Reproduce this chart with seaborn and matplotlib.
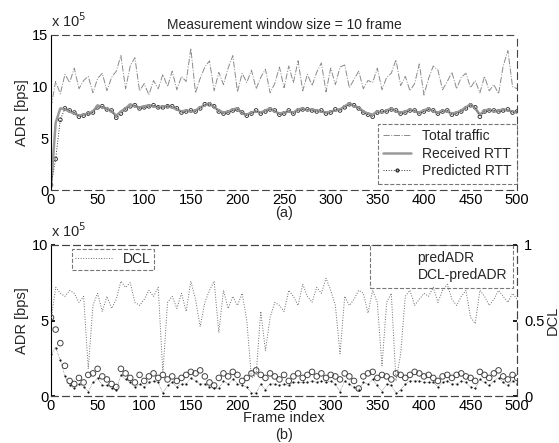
import numpy as np
import pandas as pd
import matplotlib
matplotlib.use("Agg")
import matplotlib.pyplot as plt
from matplotlib.lines import Line2D
import seaborn as sns

sns.set_theme(style="white")
plt.rcParams['font.family'] = ['Liberation Sans', 'DejaVu Sans']

frames = list(range(0, 501, 5))

total_traffic = [8.0, 10.5, 9.3, 11.2, 10.4, 11.8, 9.8, 10.6, 11.0, 9.4,
                 10.8, 11.3, 9.6, 10.9, 11.5, 13.0, 9.8, 12.0, 12.8, 9.6,
                 10.3, 9.2, 10.6, 9.8, 11.2, 10.0, 11.5, 9.7, 11.0, 10.5,
                 13.7, 9.4, 10.8, 11.9, 12.5, 9.6, 11.4, 10.2, 11.8, 13.0,
                 9.5, 11.3, 10.4, 11.6, 9.8, 10.9, 11.7, 9.4, 10.3, 11.9,
                 9.9, 12.0, 10.4, 12.5, 9.6, 11.2, 10.1, 11.4, 12.3, 9.5,
                 11.8, 10.2, 11.9, 12.1, 9.9, 10.7, 11.5, 9.8, 10.6, 10.4,
                 11.8, 9.7, 10.9, 11.3, 12.6, 10.1, 11.0, 9.6, 10.3, 12.2,
                 9.2, 10.8, 12.0, 11.6, 9.7, 10.5, 11.4, 9.8, 10.9, 11.3,
                 9.9, 10.6, 9.4, 11.0, 9.6, 10.2, 9.3, 12.0, 13.5, 10.0, 9.8]

received_rtt = [0.2, 6.5, 7.9, 7.8, 7.6, 7.4, 7.2, 7.3, 7.4, 7.6,
                8.2, 8.0, 7.9, 7.6, 7.2, 7.6, 7.9, 8.3, 8.1, 8.0,
                8.1, 8.2, 8.1, 8.0, 8.1, 8.1, 8.0, 7.8, 7.6, 7.7,
                7.6, 7.7, 8.0, 8.2, 8.4, 8.0, 7.7, 7.5, 7.6, 7.8,
                7.9, 7.4, 7.3, 7.5, 7.6, 7.5, 7.7, 7.9, 7.6, 7.4,
                7.5, 7.6, 7.5, 7.8, 7.9, 7.7, 7.8, 7.7, 7.6, 7.5,
                7.6, 7.7, 7.8, 8.1, 8.4, 8.1, 8.0, 7.6, 7.4, 7.3,
                7.6, 7.5, 7.7, 7.9, 7.6, 7.5, 7.6, 7.8, 7.6, 7.5,
                7.7, 7.9, 7.6, 7.5, 7.7, 7.6, 7.4, 7.5, 7.7, 8.0,
                8.3, 7.9, 7.3, 7.7, 7.8, 7.6, 7.7, 7.8, 7.7, 7.6, 7.5]

predicted_rtt = [0.5, 3.0, 6.8, 7.9, 7.7, 7.5, 7.1, 7.2, 7.4, 7.5,
                 8.0, 8.1, 7.8, 7.7, 7.0, 7.4, 7.8, 8.1, 8.2, 7.9,
                 8.0, 8.1, 8.2, 8.0, 8.0, 8.1, 8.1, 7.9, 7.5, 7.6,
                 7.7, 7.6, 7.9, 8.3, 8.3, 8.1, 7.6, 7.4, 7.5, 7.7,
                 7.8, 7.5, 7.2, 7.4, 7.7, 7.4, 7.6, 7.8, 7.7, 7.3,
                 7.4, 7.7, 7.4, 7.7, 7.8, 7.8, 7.7, 7.6, 7.7, 7.4,
                 7.5, 7.8, 7.7, 8.0, 8.3, 8.2, 7.9, 7.5, 7.3, 7.1,
                 7.5, 7.6, 7.6, 7.8, 7.7, 7.4, 7.5, 7.7, 7.7, 7.4,
                 7.6, 7.8, 7.7, 7.4, 7.6, 7.7, 7.3, 7.4, 7.6, 7.9,
                 8.2, 8.0, 7.1, 7.6, 7.7, 7.7, 7.6, 7.7, 7.8, 7.5, 7.6]

pred_adr = [5.2, 4.4, 3.5, 2.0, 1.0, 0.8, 1.2, 0.9, 1.4, 1.5,
            1.8, 1.3, 1.1, 0.8, 0.6, 1.8, 1.5, 1.2, 0.9, 1.4,
            1.0, 1.3, 1.5, 1.2, 1.4, 1.1, 1.3, 1.0, 1.2, 1.4,
            1.6, 1.5, 1.7, 1.3, 0.9, 0.7, 1.2, 1.5, 1.3, 1.6,
            1.4, 1.0, 1.2, 1.5, 1.7, 1.4, 1.2, 1.5, 1.3, 1.1,
            1.4, 1.0, 1.3, 1.5, 1.2, 1.4, 1.6, 1.3, 1.5, 1.2,
            1.4, 1.3, 1.1, 1.5, 1.3, 1.0, 0.5, 1.3, 1.5, 1.6,
            1.2, 1.4, 1.3, 1.1, 1.5, 1.4, 1.2, 1.4, 1.6, 1.5,
            1.3, 1.4, 1.2, 1.0, 1.3, 1.4, 1.2, 1.4, 1.5, 1.3,
            1.2, 1.0, 1.6, 1.4, 1.2, 1.5, 1.7, 1.3, 1.1, 1.4, 1.2]

dcl_pred_adr = [2.8, 3.2, 2.4, 1.3, 0.7, 0.5, 0.8, 0.6, 0.3, 0.9,
                1.2, 0.7, 0.7, 0.5, 0.4, 1.4, 1.1, 0.9, 0.6, 0.8,
                0.6, 0.9, 1.0, 0.9, 0.2, 0.7, 0.9, 0.6, 0.8, 0.8,
                1.2, 1.0, 0.8, 0.8, 0.6, 0.5, 0.5, 1.0, 0.8, 1.1,
                0.8, 0.7, 0.6, 0.2, 0.2, 0.8, 0.4, 0.8, 0.8, 0.7,
                0.8, 0.7, 0.9, 0.9, 0.9, 0.9, 1.0, 0.9, 1.0, 0.9,
                1.0, 0.8, 0.3, 1.0, 0.8, 0.6, 0.4, 0.9, 0.8, 1.1,
                0.7, 0.3, 0.8, 0.7, 0.2, 0.4, 0.8, 1.0, 1.0, 1.0,
                0.9, 0.9, 0.9, 0.6, 0.9, 1.0, 0.8, 0.8, 1.0, 0.9,
                0.6, 0.5, 1.1, 0.9, 0.7, 1.0, 1.2, 0.9, 0.7, 1.0, 0.8]

dcl = [0.50, 0.72, 0.68, 0.66, 0.70, 0.68, 0.62, 0.66, 0.18, 0.60,
       0.68, 0.56, 0.66, 0.58, 0.64, 0.76, 0.72, 0.75, 0.62, 0.60,
       0.64, 0.70, 0.66, 0.72, 0.15, 0.62, 0.66, 0.58, 0.68, 0.56,
       0.76, 0.64, 0.46, 0.62, 0.70, 0.76, 0.42, 0.70, 0.58, 0.66,
       0.60, 0.68, 0.50, 0.12, 0.14, 0.56, 0.30, 0.52, 0.62, 0.60,
       0.56, 0.70, 0.66, 0.60, 0.74, 0.66, 0.62, 0.72, 0.68, 0.78,
       0.70, 0.60, 0.28, 0.66, 0.60, 0.64, 0.70, 0.68, 0.55, 0.70,
       0.62, 0.20, 0.62, 0.68, 0.10, 0.28, 0.66, 0.70, 0.60, 0.64,
       0.68, 0.66, 0.72, 0.62, 0.70, 0.74, 0.64, 0.60, 0.66, 0.70,
       0.52, 0.48, 0.70, 0.66, 0.60, 0.64, 0.70, 0.66, 0.62, 0.68, 0.64]

scale = 1e5
df_a = pd.DataFrame({"frame": frames,
                     "total": np.array(total_traffic) * scale,
                     "recv": np.array(received_rtt) * scale,
                     "pred": np.array(predicted_rtt) * scale})
df_b = pd.DataFrame({"frame": frames,
                     "padr": np.array(pred_adr) * scale,
                     "dpadr": np.array(dcl_pred_adr) * scale,
                     "dcl": dcl})

FS = 10.5
fig = plt.figure(figsize=(5.59, 4.43), dpi=100)
ax1 = fig.add_axes([0.0912, 0.571, 0.834, 0.350])
ax2 = fig.add_axes([0.0912, 0.106, 0.834, 0.341])

# ---- panel (a)
sns.lineplot(data=df_a, x="frame", y="total", ax=ax1, color="#8a8a8a",
             linewidth=0.7, linestyle="-.", legend=False)
sns.lineplot(data=df_a, x="frame", y="recv", ax=ax1, color="#9a9a9a",
             linewidth=1.8, legend=False)
sns.lineplot(data=df_a, x="frame", y="pred", ax=ax1, color="#333333",
             linewidth=0.7, linestyle=":", legend=False)
sns.scatterplot(data=df_a, x="frame", y="pred", ax=ax1, marker="o", s=7,
                facecolor="none", edgecolor="#222222", linewidth=0.6,
                legend=False)
ax1.set_xlim(0, 500)
ax1.set_ylim(0, 15e5)
ax1.set_xticks(range(0, 501, 50))
ax1.set_yticks([0, 5e5, 10e5, 15e5])
ax1.set_yticklabels(["0", "5", "10", "15"])
ax1.set_xlabel("")
ax1.set_ylabel("ADR [bps]", fontsize=FS, labelpad=2)
ax1.set_title("Measurement window size = 10 frame", fontsize=10, pad=4)
ax1.text(0.0, 1.03, r"x 10$^5$", transform=ax1.transAxes, fontsize=FS,
         ha="left", va="bottom")
ax1.text(0.5, -0.15, "(a)", transform=ax1.transAxes, fontsize=FS,
         ha="center", va="center")
h1 = [Line2D([], [], color="#8a8a8a", lw=0.7, ls="-."),
      Line2D([], [], color="#9a9a9a", lw=1.8),
      Line2D([], [], color="#333333", lw=0.7, ls=":", marker="o", ms=2,
             mfc="none")]
leg1 = ax1.legend(h1, ["Total traffic", "Received RTT", "Predicted RTT"],
                  loc="lower right", fontsize=10, frameon=True,
                  fancybox=False, borderpad=0.4, handlelength=2.0,
                  labelspacing=0.25, bbox_to_anchor=(1.0, 0.04),
                  borderaxespad=0.0)
leg1.get_frame().set_edgecolor("#555555")
leg1.get_frame().set_linestyle("--")
leg1.get_frame().set_linewidth(0.8)

# ---- panel (b)
ax3 = ax2.twinx()
sns.lineplot(data=df_b, x="frame", y="dcl", ax=ax3, color="#6a6a6a",
             linewidth=0.7, linestyle=":", legend=False)
sns.scatterplot(data=df_b, x="frame", y="padr", ax=ax2, marker="o", s=16,
                facecolor="none", edgecolor="#444444", linewidth=0.7,
                legend=False)
sns.lineplot(data=df_b, x="frame", y="dpadr", ax=ax2, color="#333333",
             linewidth=0.4, linestyle=":", legend=False)
sns.scatterplot(data=df_b, x="frame", y="dpadr", ax=ax2, marker=".", s=10,
                color="#111111", linewidth=0, legend=False)
ax2.set_xlim(0, 500)
ax2.set_ylim(0, 10e5)
ax3.set_ylim(0, 1)
ax2.set_xticks(range(0, 501, 50))
ax2.set_yticks([0, 5e5, 10e5])
ax2.set_yticklabels(["0", "5", "10"])
ax3.set_yticks([0, 0.5, 1])
ax3.set_yticklabels(["0", "0.5", "1"])
ax2.set_xlabel("Frame index", fontsize=FS, labelpad=-1)
ax2.set_ylabel("ADR [bps]", fontsize=FS, labelpad=2)
ax3.set_ylabel("DCL", fontsize=FS, labelpad=1)
ax2.text(0.0, 1.03, r"x 10$^5$", transform=ax2.transAxes, fontsize=FS,
         ha="left", va="bottom")
fig.text(0.508, 0.003, "(b)", fontsize=FS, ha="center", va="bottom")
h2 = [Line2D([], [], color="#444444", lw=0, marker="o", ms=0, mfc="none"),
      Line2D([], [], color="#333333", lw=0, marker=".", ms=0)]
leg2 = ax2.legend(h2, ["predADR", "DCL-predADR"], loc="upper right",
                  fontsize=10, frameon=True, fancybox=False, borderpad=0.4,
                  handlelength=2.2, labelspacing=0.25,
                  bbox_to_anchor=(0.99, 1.0), borderaxespad=0.0)
h3 = [Line2D([], [], color="#6a6a6a", lw=0.7, ls=":")]
leg3 = ax3.legend(h3, ["DCL"], loc="upper left", fontsize=10, frameon=True,
                  fancybox=False, borderpad=0.25, handlelength=2.6,
                  bbox_to_anchor=(0.045, 0.975), borderaxespad=0.0)
for lg in (leg2, leg3):
    lg.get_frame().set_edgecolor("#555555")
    lg.get_frame().set_linestyle("--")
    lg.get_frame().set_linewidth(0.8)

for ax in (ax1, ax2, ax3):
    ax.tick_params(direction="in", length=3, labelsize=FS, pad=2,
                   top=False, colors="black")
    for side in ("top", "right", "bottom"):
        ax.spines[side].set_linestyle((0, (6, 4)))
        ax.spines[side].set_color("#444444")
        ax.spines[side].set_linewidth(0.8)
    ax.spines["left"].set_color("black")
    ax.spines["left"].set_linewidth(0.8)
ax3.spines["left"].set_visible(False)
ax3.tick_params(axis="y", pad=5)

fig.savefig("out.png", dpi=100)
